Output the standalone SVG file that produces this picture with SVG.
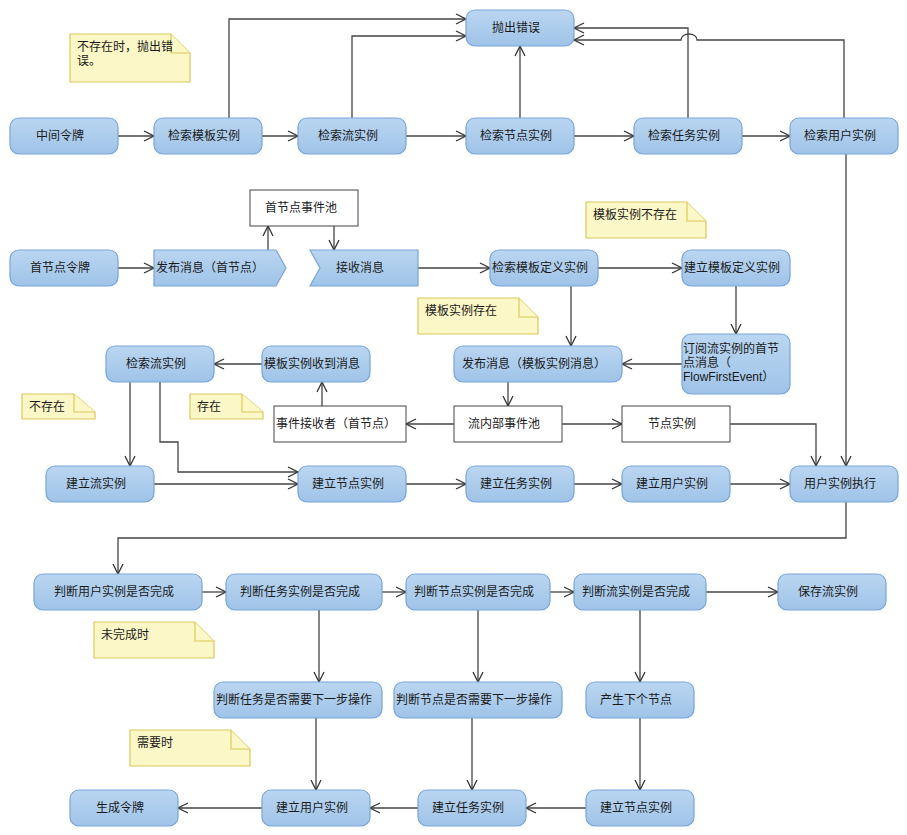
<svg xmlns="http://www.w3.org/2000/svg" width="907" height="835" viewBox="0 0 907 835">
<defs>
<linearGradient id="g" x1="0" y1="0" x2="0" y2="1">
<stop offset="0" stop-color="#bad6f1"/>
<stop offset="1" stop-color="#9fc3e8"/>
</linearGradient>
<marker id="a" markerUnits="userSpaceOnUse" markerWidth="12" markerHeight="12" viewBox="0 0 12 12" refX="11" refY="6" orient="auto">
<path d="M1,1 L11,6 L1,11" fill="none" stroke="#333" stroke-width="1.3"/>
</marker>
<style>
.n rect,.n polygon{fill:url(#g);stroke:#78a5d8;stroke-width:1.2}
.b rect{fill:#fff;stroke:#444;stroke-width:1}
.note path{fill:#fbf7c6;stroke:#dcc95e;stroke-width:1.2}
text{font-family:"Liberation Sans","Noto Sans CJK SC",sans-serif;font-size:12px;fill:#1a1a1a}
.c{text-anchor:middle}
#edges path{fill:none;stroke:#444;stroke-width:1.3;marker-end:url(#a)}
</style>
</defs>
<rect width="907" height="835" fill="#fff"/>

<!-- notes -->
<g id="note1" class="note"><path d="M70,34 H171 L190,53 V82 H70 Z"/><path d="M171,34 V53 H190" fill="none"/><text x="77" y="51">不存在时，抛出错</text><text x="77" y="65">误。</text></g>
<g id="note2" class="note"><path d="M586,202 H687 L706,221 V238 H586 Z"/><path d="M687,202 V221 H706" fill="none"/><text x="593" y="219">模板实例不存在</text></g>
<g id="note3" class="note"><path d="M418,298 H519 L538,317 V334 H418 Z"/><path d="M519,298 V317 H538" fill="none"/><text x="425" y="315">模板实例存在</text></g>
<g id="note4" class="note"><path d="M22,394 H74 L95,412 V419 H22 Z"/><path d="M74,394 V412 H95" fill="none"/><text x="29" y="411">不存在</text></g>
<g id="note5" class="note"><path d="M190,394 H242 L263,412 V419 H190 Z"/><path d="M242,394 V412 H263" fill="none"/><text x="197" y="411">存在</text></g>
<g id="note6" class="note"><path d="M94,622 H195 L214,641 V658 H94 Z"/><path d="M195,622 V641 H214" fill="none"/><text x="101" y="639">未完成时</text></g>
<g id="note7" class="note"><path d="M130,730 H231 L250,749 V766 H130 Z"/><path d="M231,730 V749 H250" fill="none"/><text x="137" y="747">需要时</text></g>

<!-- edges -->
<g id="edges">
<path d="M118,136 H154"/>
<path d="M262,136 H298"/>
<path d="M406,136 H466"/>
<path d="M574,136 H634"/>
<path d="M742,136 H790"/>
<path d="M229,118 V19 H466"/>
<path d="M352,118 V36 H466"/>
<path d="M520,118 V46"/>
<path d="M688,118 V28 H574"/>
<path d="M844,118 V40 H697 C697,32 681,32 681,40 H574"/>
<path d="M846,154 V466"/>
<path d="M118,268 H154"/>
<path d="M268,250 V226"/>
<path d="M334,226 V250"/>
<path d="M418,268 H490"/>
<path d="M598,268 H682"/>
<path d="M571,286 V346"/>
<path d="M736,286 V334"/>
<path d="M682,364 H622"/>
<path d="M508,382 V406"/>
<path d="M454,424 H406"/>
<path d="M562,424 H622"/>
<path d="M322,406 V382"/>
<path d="M262,364 H214"/>
<path d="M130,382 V466"/>
<path d="M160,382 V442 H178 V472 H298"/>
<path d="M154,484 H298"/>
<path d="M406,484 H466"/>
<path d="M574,484 H622"/>
<path d="M730,484 H790"/>
<path d="M730,424 H816 V466"/>
<path d="M846,502 V538 H118 V574"/>
<path d="M202,592 H226"/>
<path d="M382,592 H406"/>
<path d="M550,592 H574"/>
<path d="M706,592 H778"/>
<path d="M319,610 V682"/>
<path d="M478,610 V682"/>
<path d="M640,610 V682"/>
<path d="M316,718 V790"/>
<path d="M472,718 V790"/>
<path d="M640,718 V790"/>
<path d="M586,808 H526"/>
<path d="M418,808 H370"/>
<path d="M262,808 H178"/>
</g>

<!-- row 1 -->
<g id="n_zjlp" class="n"><rect x="10" y="118" width="108" height="36" rx="9"/><text class="c" x="60" y="140">中间令牌</text></g>
<g id="n_jsmbsl" class="n"><rect x="154" y="118" width="108" height="36" rx="9"/><text class="c" x="204" y="140">检索模板实例</text></g>
<g id="n_jslsl" class="n"><rect x="298" y="118" width="108" height="36" rx="9"/><text class="c" x="348" y="140">检索流实例</text></g>
<g id="n_jsjdsl" class="n"><rect x="466" y="118" width="108" height="36" rx="9"/><text class="c" x="516" y="140">检索节点实例</text></g>
<g id="n_jsrwsl" class="n"><rect x="634" y="118" width="108" height="36" rx="9"/><text class="c" x="684" y="140">检索任务实例</text></g>
<g id="n_jsyhsl" class="n"><rect x="790" y="118" width="108" height="36" rx="9"/><text class="c" x="840" y="140">检索用户实例</text></g>
<g id="n_pccw" class="n"><rect x="466" y="10" width="108" height="36" rx="9"/><text class="c" x="516" y="32">抛出错误</text></g>

<!-- row 2 -->
<g id="n_sjdlp" class="n"><rect x="10" y="250" width="108" height="36" rx="9"/><text class="c" x="60" y="272">首节点令牌</text></g>
<g id="n_fbxx1" class="n"><polygon points="154,250 276,250 286,268 276,286 154,286"/><text x="156" y="272">发布消息（首节点）</text></g>
<g id="n_sjdsjc" class="b"><rect x="250" y="190" width="108" height="36"/><text class="c" x="301" y="212">首节点事件池</text></g>
<g id="n_jsxx" class="n"><polygon points="310,250 418,250 418,286 310,286 320,268"/><text class="c" x="360" y="272">接收消息</text></g>
<g id="n_jsmbdy" class="n"><rect x="490" y="250" width="108" height="36" rx="9"/><text class="c" x="540" y="272">检索模板定义实例</text></g>
<g id="n_jlmbdy" class="n"><rect x="682" y="250" width="108" height="36" rx="9"/><text class="c" x="732" y="272">建立模板定义实例</text></g>
<g id="n_dy" class="n"><rect x="682" y="334" width="108" height="60" rx="9"/><text x="683" y="353">订阅流实例的首节</text><text x="683" y="367">点消息（</text><text x="683" y="381">FlowFirstEvent）</text></g>
<g id="n_fbxx2" class="n"><rect x="454" y="346" width="168" height="36" rx="9"/><text class="c" x="534" y="368">发布消息（模板实例消息）</text></g>
<g id="n_lnbsjc" class="b"><rect x="454" y="406" width="108" height="36"/><text class="c" x="504" y="428">流内部事件池</text></g>
<g id="n_jdsl" class="b"><rect x="622" y="406" width="108" height="36"/><text class="c" x="672" y="428">节点实例</text></g>
<g id="n_sjjsz" class="b"><rect x="274" y="406" width="132" height="36"/><text class="c" x="336" y="428">事件接收者（首节点）</text></g>
<g id="n_mbslsd" class="n"><rect x="262" y="346" width="108" height="36" rx="9"/><text class="c" x="312" y="368">模板实例收到消息</text></g>
<g id="n_jslsl2" class="n"><rect x="106" y="346" width="108" height="36" rx="9"/><text class="c" x="156" y="368">检索流实例</text></g>

<!-- row 3 -->
<g id="n_jllsl" class="n"><rect x="46" y="466" width="108" height="36" rx="9"/><text class="c" x="96" y="488">建立流实例</text></g>
<g id="n_jljdsl" class="n"><rect x="298" y="466" width="108" height="36" rx="9"/><text class="c" x="348" y="488">建立节点实例</text></g>
<g id="n_jlrwsl" class="n"><rect x="466" y="466" width="108" height="36" rx="9"/><text class="c" x="516" y="488">建立任务实例</text></g>
<g id="n_jlyhsl" class="n"><rect x="622" y="466" width="108" height="36" rx="9"/><text class="c" x="672" y="488">建立用户实例</text></g>
<g id="n_yhslzx" class="n"><rect x="790" y="466" width="108" height="36" rx="9"/><text class="c" x="840" y="488">用户实例执行</text></g>

<!-- row 4 -->
<g id="n_pdyh" class="n"><rect x="34" y="574" width="168" height="36" rx="9"/><text class="c" x="114" y="596">判断用户实例是否完成</text></g>
<g id="n_pdrw" class="n"><rect x="226" y="574" width="156" height="36" rx="9"/><text class="c" x="300" y="596">判断任务实例是否完成</text></g>
<g id="n_pdjd" class="n"><rect x="406" y="574" width="144" height="36" rx="9"/><text class="c" x="474" y="596">判断节点实例是否完成</text></g>
<g id="n_pdl" class="n"><rect x="574" y="574" width="132" height="36" rx="9"/><text class="c" x="636" y="596">判断流实例是否完成</text></g>
<g id="n_bclsl" class="n"><rect x="778" y="574" width="108" height="36" rx="9"/><text class="c" x="828" y="596">保存流实例</text></g>

<!-- row 5 -->
<g id="n_pdrwxy" class="n"><rect x="214" y="682" width="168" height="36" rx="9"/><text class="c" x="294" y="704">判断任务是否需要下一步操作</text></g>
<g id="n_pdjdxy" class="n"><rect x="394" y="682" width="168" height="36" rx="9"/><text class="c" x="474" y="704">判断节点是否需要下一步操作</text></g>
<g id="n_csxgjd" class="n"><rect x="586" y="682" width="108" height="36" rx="9"/><text class="c" x="636" y="704">产生下个节点</text></g>

<!-- row 6 -->
<g id="n_sclp" class="n"><rect x="70" y="790" width="108" height="36" rx="9"/><text class="c" x="120" y="812">生成令牌</text></g>
<g id="n_jlyhsl2" class="n"><rect x="262" y="790" width="108" height="36" rx="9"/><text class="c" x="312" y="812">建立用户实例</text></g>
<g id="n_jlrwsl2" class="n"><rect x="418" y="790" width="108" height="36" rx="9"/><text class="c" x="468" y="812">建立任务实例</text></g>
<g id="n_jljdsl2" class="n"><rect x="586" y="790" width="108" height="36" rx="9"/><text class="c" x="636" y="812">建立节点实例</text></g>
</svg>
